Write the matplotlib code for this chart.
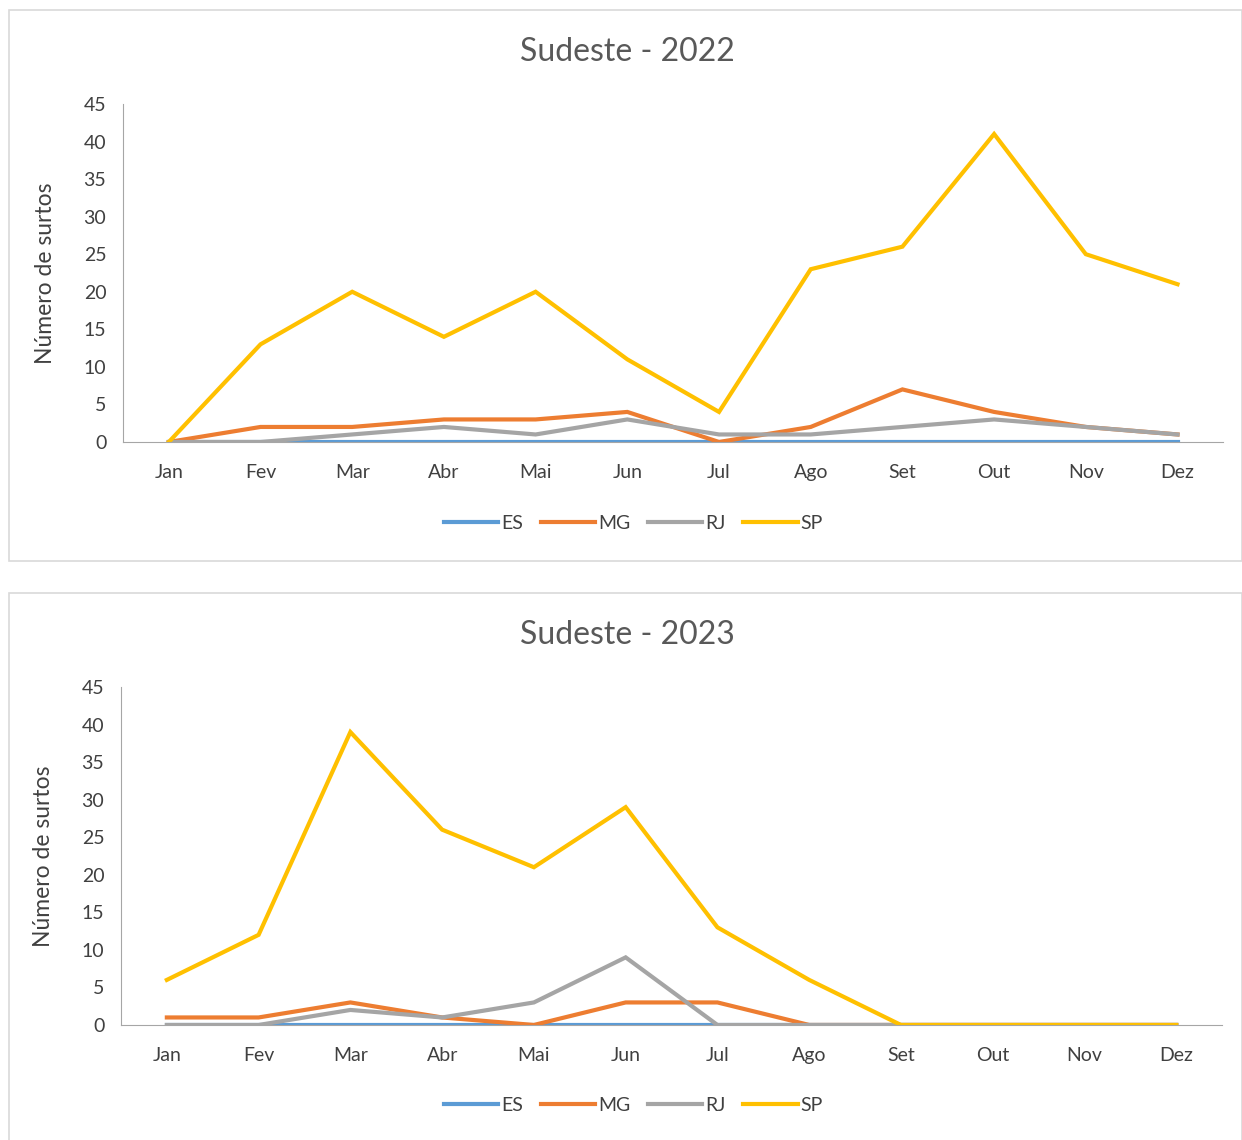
import matplotlib
matplotlib.use("Agg")
import matplotlib.pyplot as plt
from matplotlib.patches import Rectangle

plt.rcParams['font.family'] = ['Lato', 'DejaVu Sans']

meses = ["Jan", "Fev", "Mar", "Abr", "Mai", "Jun", "Jul", "Ago", "Set", "Out", "Nov", "Dez"]
estados = ["ES", "MG", "RJ", "SP"]
cores = ["#5b9bd5", "#ed7d31", "#a5a5a5", "#ffc000"]
yticks = [0, 5, 10, 15, 20, 25, 30, 35, 40, 45]

# 2022
es_2022 = [0, 0, 0, 0, 0, 0, 0, 0, 0, 0, 0, 0]
mg_2022 = [0, 2, 2, 3, 3, 4, 0, 2, 7, 4, 2, 1]
rj_2022 = [0, 0, 1, 2, 1, 3, 1, 1, 2, 3, 2, 1]
sp_2022 = [0, 13, 20, 14, 20, 11, 4, 23, 26, 41, 25, 21]

# 2023
es_2023 = [0, 0, 0, 0, 0, 0, 0, 0, 0, 0, 0, 0]
mg_2023 = [1, 1, 3, 1, 0, 3, 3, 0, 0, 0, 0, 0]
rj_2023 = [0, 0, 2, 1, 3, 9, 0, 0, 0, 0, 0, 0]
sp_2023 = [6, 12, 39, 26, 21, 29, 13, 6, 0, 0, 0, 0]

texto = "#595959"

fig = plt.figure(figsize=(12.42, 11.4), dpi=100)


def painel(rect_ax, caixa, titulo, series, titulo_y, legenda_y):
    # moldura do gráfico (estilo Excel)
    fig.patches.append(Rectangle((caixa[0], caixa[1]), caixa[2], caixa[3],
                                 transform=fig.transFigure, fill=False,
                                 edgecolor="#d9d9d9", lw=1.2))
    ax = fig.add_axes(rect_ax)
    x = list(range(len(meses)))
    linhas = []
    for nome, cor, vals in zip(estados, cores, series):
        l, = ax.plot(x, vals, color=cor, lw=3, label=nome, solid_joinstyle="miter")
        linhas.append(l)
    ax.set_xlim(-0.5, 11.5)
    ax.set_ylim(0, 45)
    ax.set_yticks(yticks)
    ax.set_xticks(x)
    ax.set_xticklabels(meses)
    ax.tick_params(length=0, labelsize=14, colors="#404040")
    ax.tick_params(axis="x", pad=16)
    ax.tick_params(axis="y", pad=12)
    for s in ["top", "right"]:
        ax.spines[s].set_visible(False)
    ax.spines["left"].set_color("#a6a6a6")
    ax.spines["bottom"].set_color("#a6a6a6")
    ax.set_ylabel("Número de surtos", fontsize=16.5, color="#404040", labelpad=20)
    fig.text(0.505, titulo_y, titulo, ha="center", va="center", fontsize=23, color=texto)
    fig.legend(handles=linhas, loc="center", bbox_to_anchor=(0.51, legenda_y),
               ncol=4, frameon=False, fontsize=14, handlelength=2.8,
               handletextpad=0.15, columnspacing=0.9, labelcolor="#404040")
    return ax


painel([0.099, 0.6123, 0.886, 0.2965], [0.007, 0.508, 0.993, 0.483],
       "Sudeste - 2022", [es_2022, mg_2022, rj_2022, sp_2022], 0.954, 0.541)
painel([0.0974, 0.1009, 0.8866, 0.2965], [0.007, -0.01, 0.993, 0.49],
       "Sudeste - 2023", [es_2023, mg_2023, rj_2023, sp_2023], 0.443, 0.0307)

fig.savefig("out.png", dpi=100, facecolor="white")
